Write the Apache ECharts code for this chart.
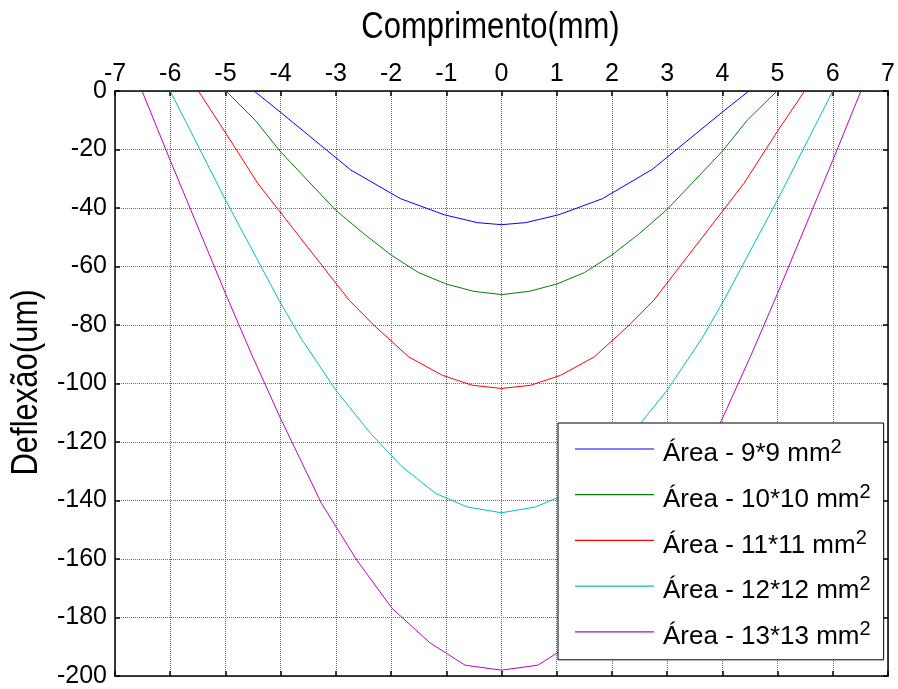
<!DOCTYPE html>
<html>
<head>
<meta charset="utf-8">
<script src="https://cdn.jsdelivr.net/npm/echarts@6/dist/echarts.min.js"></script>
<style>
html,body{margin:0;padding:0;background:#fff;}
#chart{width:898px;height:689px;}
</style>
</head>
<body>
<div id="chart"></div>
<script>
// ---- data ----
var seriesNames = ['Área - 9*9 mm', 'Área - 10*10 mm', 'Área - 11*11 mm', 'Área - 12*12 mm', 'Área - 13*13 mm'];
var seriesColors = ['#0000ff', '#008000', '#ff0000', '#00bfbf', '#bf00bf'];

var x9  = [-4.48, -4.0, -2.73, -1.83, -1.04, -0.44, 0, 0.44, 1.04, 1.83, 2.73, 4.0, 4.48];
var y9  = [0, -7.3, -27.0, -36.8, -42.3, -45.0, -45.7, -45.0, -42.3, -36.8, -26.8, -7.2, 0];

var x10 = [-4.99, -4.46, -4.0, -3.0, -2.48, -1.99, -1.5, -1.0, -0.5, 0, 0.5, 1.0, 1.5, 1.99, 2.48, 3.0, 4.0, 4.45, 4.99];
var y10 = [0, -10.0, -20.8, -40.8, -49.0, -56.2, -62.1, -66.0, -68.5, -69.6, -68.5, -66.0, -62.1, -56.2, -49.0, -40.5, -20.6, -10.0, 0];

var x11 = [-5.49, -4.99, -4.41, -2.76, -2.31, -1.68, -1.07, -0.53, 0, 0.53, 1.07, 1.68, 2.31, 2.76, 4.39, 4.99, 5.49];
var y11 = [0, -14.5, -31.7, -71.5, -80.1, -90.9, -97.2, -100.6, -101.7, -100.6, -97.2, -90.9, -80.1, -71.5, -31.6, -14.0, 0];

var x12 = [-6.0, -5.0, -4.03, -3.63, -3.0, -2.37, -1.80, -1.19, -0.62, 0, 0.62, 1.19, 1.80, 2.37, 3.0, 3.63, 4.03, 5.0, 6.0];
var y12 = [0, -37.2, -71.5, -84.6, -102.3, -117.1, -128.5, -137.6, -142.2, -144.2, -142.2, -137.6, -128.5, -117.1, -102.3, -84.6, -71.5, -37.2, 0];

var x13 = [-6.51, -6.0, -5.0, -4.52, -4.0, -3.26, -2.62, -1.98, -1.30, -0.66, 0, 0.66, 1.30, 1.98, 2.62, 3.26, 4.0, 4.52, 5.0, 6.0, 6.51];
var y13 = [0, -23.7, -69.2, -90.3, -112.0, -141.0, -160.4, -176.9, -188.6, -196.3, -198.0, -196.3, -188.6, -176.9, -160.4, -141.0, -112.0, -90.3, -69.2, -23.7, 0];

var xMin = -7, xMax = 7, xStep = 1;
var yMin = -200, yMax = 0, yStep = 20;
var xTitle = 'Comprimento(mm)';
var yTitle = 'Deflexão(um)';

// ---- chart ----
var FONT = "'Liberation Sans', Arial, Helvetica, sans-serif";
var xs = [x9, x10, x11, x12, x13];
var ys = [y9, y10, y11, y12, y13];

function pairs(a, b) { return a.map(function (v, i) { return [v, b[i]]; }); }

var series = seriesNames.map(function (n, k) {
  return {
    name: n,
    type: 'line',
    symbol: 'none',
    showSymbol: false,
    smooth: false,
    xAxisIndex: 0,
    yAxisIndex: 0,
    lineStyle: { color: seriesColors[k], width: 1 },
    itemStyle: { color: seriesColors[k] },
    data: pairs(xs[k], ys[k])
  };
});

var gridStyle = { show: true, lineStyle: { color: '#6e6e6e', type: [1, 1], width: 1 } };
var axLine = { show: true, onZero: false, lineStyle: { color: '#000', width: 1.5 } };
var tick = { show: true, inside: true, length: 5, lineStyle: { color: '#000', width: 1.5 } };

var chart = echarts.init(document.getElementById('chart'));
chart.setOption({
  animation: false,
  backgroundColor: '#fff',
  grid: { left: 115, right: 10, top: 91, bottom: 13, containLabel: false },
  xAxis: [
    { type: 'value', position: 'top', min: xMin, max: xMax, interval: xStep,
      axisLine: axLine, axisTick: tick, splitLine: gridStyle,
      axisLabel: { show: true, margin: 4, color: '#000', fontSize: 25, fontFamily: FONT, showMinLabel: true, showMaxLabel: true } },
    { type: 'value', position: 'bottom', min: xMin, max: xMax, interval: xStep,
      axisLine: axLine, axisTick: tick, splitLine: { show: false }, axisLabel: { show: false } }
  ],
  yAxis: [
    { type: 'value', position: 'left', min: yMin, max: yMax, interval: yStep,
      axisLine: axLine, axisTick: tick, splitLine: gridStyle,
      axisLabel: { show: true, margin: 8, color: '#000', fontSize: 25, fontFamily: FONT, showMinLabel: true, showMaxLabel: true } },
    { type: 'value', position: 'right', min: yMin, max: yMax, interval: yStep,
      axisLine: axLine, axisTick: tick, splitLine: { show: false }, axisLabel: { show: false } }
  ],
  legend: {
    orient: 'vertical',
    left: 558,
    top: 423,
    padding: [14, 13, 6, 17],
    itemGap: 11.7,
    itemWidth: 79,
    itemHeight: 1.2,
    icon: 'rect',
    backgroundColor: '#fff',
    borderColor: '#000',
    borderWidth: 1,
    borderRadius: 0,
    formatter: function (n) { return '{a|' + n + '}{b|2}'; },
    textStyle: {
      color: '#000',
      fontFamily: FONT,
      padding: [10, 0, 0, 4],
      rich: {
        a: { fontSize: 26, lineHeight: 30, fontFamily: FONT, color: '#000' },
        b: { fontSize: 20, lineHeight: 30, fontFamily: FONT, color: '#000', padding: [0, 0, 14, 0] }
      }
    },
    data: seriesNames
  },
  graphic: [
    { type: 'text', x: 490.5, y: 28, scaleY: 1.18, z: 10,
      style: { text: xTitle, fontSize: 31, fontFamily: FONT, fill: '#000', align: 'center', verticalAlign: 'middle' } },
    { type: 'text', x: 27, y: 382.5, rotation: Math.PI / 2, scaleY: 1.18, z: 10,
      style: { text: yTitle, fontSize: 31, fontFamily: FONT, fill: '#000', align: 'center', verticalAlign: 'middle' } }
  ],
  series: series
});
</script>
</body>
</html>
